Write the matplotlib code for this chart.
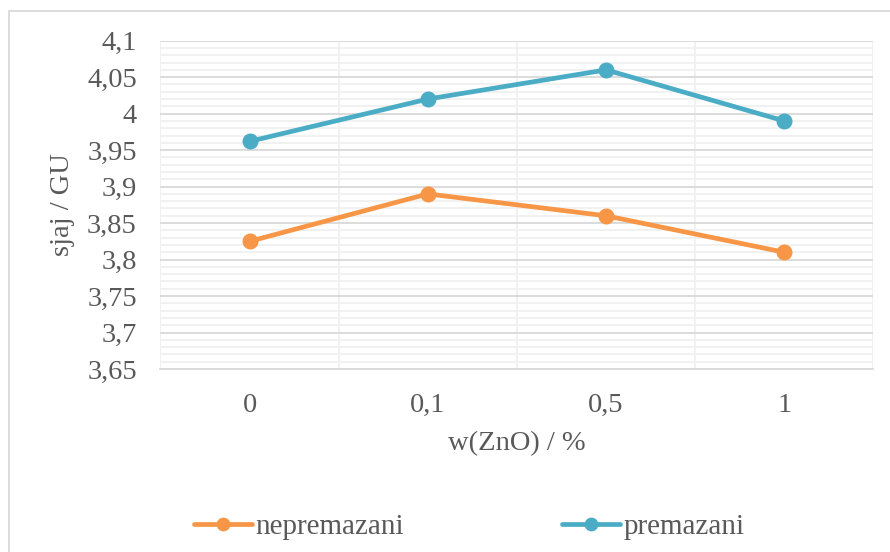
import matplotlib.pyplot as plt
import numpy as np
from matplotlib.lines import Line2D
from matplotlib.ticker import MultipleLocator, FixedLocator

categories = ['0', '0,1', '0,5', '1']
nepremazani = [3.825, 3.89, 3.86, 3.81]
premazani = [3.962, 4.02, 4.06, 3.99]

orange = '#F79646'
blue = '#4BACC6'
textcol = '#595959'

plt.rcParams['font.family'] = ['Liberation Serif', 'DejaVu Serif']

fig = plt.figure(figsize=(8.9, 5.52), dpi=100)
ax = fig.add_axes([0.1803, 0.3315, 0.8011, 0.5948])

x = np.arange(len(categories))
ax.plot(x, nepremazani, color=orange, lw=3.4, marker='o', ms=10.5,
        solid_capstyle='round', label='nepremazani', zorder=3)
ax.plot(x, premazani, color=blue, lw=3.4, marker='o', ms=10.5,
        solid_capstyle='round', label='premazani', zorder=3)

ax.set_xlim(-0.5, len(categories) - 0.5)
ax.set_ylim(3.65, 4.1)
ax.yaxis.set_major_locator(MultipleLocator(0.05))
ax.yaxis.set_minor_locator(MultipleLocator(0.01))
ax.set_yticklabels([f'{v:.2f}'.rstrip('0').rstrip('.').replace('.', ',')
                    for v in ax.get_yticks()])
ax.set_xticks(x)
ax.set_xticklabels(categories)
ax.xaxis.set_minor_locator(FixedLocator(np.arange(-0.5, len(categories), 0.5)))

ax.grid(which='major', axis='y', color='#D9D9D9', lw=1.3, zorder=0)
ax.grid(which='minor', axis='y', color='#F0F0F0', lw=1.3, zorder=0)
ax.grid(which='minor', axis='x', color='#F0F0F0', lw=1.3, zorder=0)
ax.set_axisbelow(True)

for s in ['top', 'right', 'left']:
    ax.spines[s].set_visible(False)
ax.spines['bottom'].set_color('#D9D9D9')
ax.spines['bottom'].set_linewidth(1.3)

ax.tick_params(which='both', length=0)
ax.tick_params(axis='y', labelsize=20.5, colors=textcol, pad=17)
ax.tick_params(axis='x', labelsize=20.5, colors=textcol, pad=17)

ax.set_xlabel('w(ZnO) / %', fontsize=20.5, color=textcol, labelpad=10)
ax.set_ylabel('sjaj / GU', fontsize=20.5, color=textcol, labelpad=9)

fig.legend(loc='center', bbox_to_anchor=(0.527, 1 - 527 / 552), ncol=2,
           frameon=False, fontsize=21, labelcolor=textcol, markerscale=0.85,
           handlelength=2.0, handletextpad=0.12, columnspacing=5.4)

# outer chart frame
fig.add_artist(Line2D([9 / 890, 9 / 890, 1.0], [0.0, 1 - 11 / 552, 1 - 11 / 552],
                      transform=fig.transFigure, color='#D9D9D9', lw=1.3))

fig.savefig('out.png', dpi=100)
